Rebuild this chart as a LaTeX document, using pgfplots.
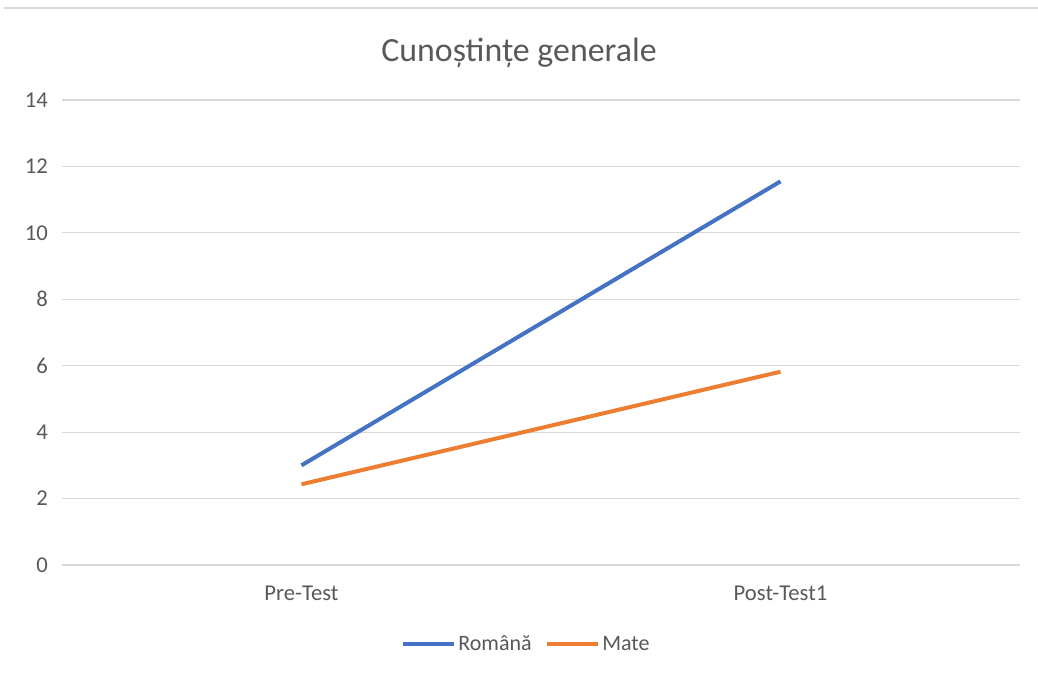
\documentclass[border=0pt]{standalone}
\usepackage{pgfplots}
\pgfplotsset{compat=1.18}
\usepackage{fontspec}
\setmainfont{Carlito}
\definecolor{txt}{HTML}{595959}
\definecolor{gridc}{HTML}{D9D9D9}
\definecolor{cblue}{HTML}{4472C4}
\definecolor{corange}{HTML}{ED7D31}
\begin{document}
\begin{tikzpicture}
\path[use as bounding box] (-46.5pt,-81pt) rectangle (732pt,423.75pt);
\draw[gridc, line width=0.9pt] (-43.5pt,417.75pt) -- (732pt,417.75pt);
\begin{axis}[
  at={(0,0)}, anchor=south west,
  scale only axis,
  width=718.5pt, height=348.75pt,
  xmin=-0.5, xmax=1.5,
  ymin=0, ymax=14,
  ytick={0,2,...,14},
  xtick={0,1},
  xticklabels={Pre-Test,Post-Test1},
  axis line style={draw=none},
  tick style={draw=none},
  xmajorgrids=false,
  ymajorgrids=true,
  grid style={draw=gridc, line width=0.8pt},
  ticklabel style={font=\fontsize{17}{20}\selectfont, text=txt},
  /pgf/number format/assume math mode=true,
  yticklabel style={xshift=-7pt},
  xticklabel style={yshift=-12pt},
  legend columns=2,
  legend style={draw=none, at={(0.485,-0.14)}, anchor=north, font=\fontsize{16.5}{20}\selectfont, text=txt,
    /tikz/every even column/.append style={column sep=8pt}},
  legend cell align=left,
  legend image code/.code={\draw[#1, line width=3pt] (0pt,0pt) -- (38pt,0pt);},
  clip=false,
]
\addplot[cblue, line width=3pt] coordinates {(0,3.0) (1,11.55)};
\addlegendentry{Română}
\addplot[corange, line width=3pt] coordinates {(0,2.43) (1,5.82)};
\addlegendentry{Mate}
\end{axis}
\node[text=txt, font=\fontsize{25.4}{30}\selectfont] at (342.75pt,384pt) {Cunoștințe generale};
\end{tikzpicture}
\end{document}
